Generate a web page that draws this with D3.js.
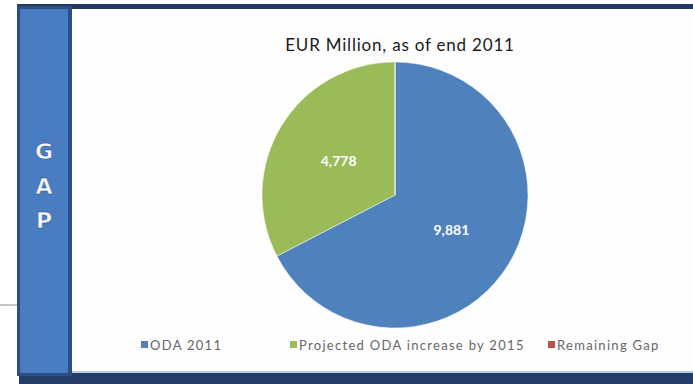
<!DOCTYPE html>
<html><head><meta charset="utf-8">
<script src="https://cdn.jsdelivr.net/npm/d3@7"></script>
<style>body{margin:0;background:#fff}svg{display:block}</style>
</head><body>
<svg id="c" width="693" height="384"></svg>
<script>
const categories = ["ODA 2011", "Projected ODA increase by 2015", "Remaining Gap"];
const values = [9881, 4778, 0];
const labels = ["9,881", "4,778", ""];
const colors = ["#4F81BD", "#9BBB59", "#C0504D"];
const title = "EUR Million, as of end 2011";
const sideLetters = ["G", "A", "P"];

const svg = d3.select("#c");
// frame
svg.append("rect").attr("x",0).attr("y",0).attr("width",693).attr("height",384).attr("fill","#fff");
svg.append("line").attr("x1",0).attr("x2",18).attr("y1",305).attr("y2",305).attr("stroke","#8a8a8a").attr("stroke-width",1);
svg.append("rect").attr("x",17).attr("y",4).attr("width",676).attr("height",5).attr("fill","#23395e");
svg.append("rect").attr("x",19).attr("y",372).attr("width",674).attr("height",12).attr("fill","#243d66");
svg.append("rect").attr("x",70).attr("y",371).attr("width",623).attr("height",2).attr("fill","#b9cde6");
svg.append("rect").attr("x",17).attr("y",6).attr("width",55).attr("height",370).attr("fill","#2b4f85");
svg.append("rect").attr("x",20).attr("y",9).attr("width",48).attr("height",364).attr("fill","#4a7cc2");
svg.append("rect").attr("x",72).attr("y",9).attr("width",621).attr("height",362).attr("fill","#fefefe");

const letterY = [151, 186, 220];
svg.selectAll("text.side").data(sideLetters).join("text")
  .attr("class","side").attr("x",44).attr("y",(d,i)=>letterY[i])
  .attr("text-anchor","middle").attr("dominant-baseline","central")
  .attr("font-family","DejaVu Sans, sans-serif").attr("font-weight","bold").attr("font-size",22)
  .attr("fill","#f4f6fa").attr("stroke","#2d4f80").attr("stroke-width",0.5).text(d=>d);

svg.append("text").attr("x",400).attr("y",51).attr("text-anchor","middle")
  .attr("font-family","Lato, sans-serif").attr("font-size",17).attr("letter-spacing",0.8)
  .attr("fill","#1a1a1a").text(title);

const cx = 395, cy = 195, r = 133;
const pie = d3.pie().sort(null).value(d=>d)(values);
const arc = d3.arc().innerRadius(0).outerRadius(r);
const g = svg.append("g").attr("transform",`translate(${cx},${cy})`);
g.selectAll("path").data(pie).join("path").attr("d",arc).attr("fill",(d,i)=>colors[i]).attr("stroke","#fff").attr("stroke-width",0.5);
const labelArc = d3.arc().innerRadius(66).outerRadius(66);
g.selectAll("text").data(pie).join("text")
  .attr("transform",d=>{const c=labelArc.centroid(d);return `translate(${c[0]},${c[1]})`;})
  .attr("text-anchor","middle").attr("dominant-baseline","central")
  .attr("font-family","Lato, sans-serif").attr("font-weight","bold").attr("font-size",14)
  .attr("fill","#fff").text((d,i)=>labels[i]);

const legX = [141, 290, 548];
const lg = svg.selectAll("g.leg").data(categories).join("g").attr("class","leg")
  .attr("transform",(d,i)=>`translate(${legX[i]},345)`);
lg.append("rect").attr("x",0).attr("y",-4).attr("width",7).attr("height",7).attr("fill",(d,i)=>colors[i]);
lg.append("text").attr("x",9).attr("y",0).attr("dominant-baseline","central")
  .attr("font-family","Lato, sans-serif").attr("font-size",13).attr("letter-spacing",1.3)
  .attr("fill","#666").text(d=>d);
</script>
</body></html>
